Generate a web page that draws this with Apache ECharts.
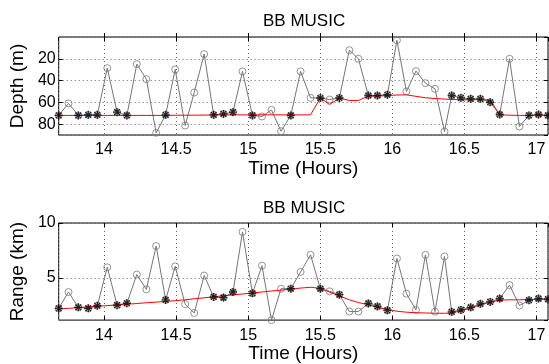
<!DOCTYPE html>
<html>
<head>
<meta charset="utf-8">
<script src="https://cdn.jsdelivr.net/npm/echarts@6/dist/echarts.min.js"></script>
<style>html,body{margin:0;padding:0;background:#fff;}#c{width:549px;height:364px;}</style>
</head>
<body>
<div id="c"></div>
<script>
// Time of each estimate (hours)
const times = [13.686, 13.754, 13.822, 13.891, 13.954, 14.023, 14.091, 14.159, 14.228, 14.294,
  14.362, 14.428, 14.494, 14.563, 14.626, 14.695, 14.761, 14.829, 14.895, 14.961,
  15.030, 15.096, 15.162, 15.228, 15.296, 15.364, 15.433, 15.501, 15.565, 15.633,
  15.702, 15.765, 15.834, 15.897, 15.966, 16.032, 16.098, 16.164, 16.230, 16.296,
  16.362, 16.412, 16.476, 16.544, 16.611, 16.679, 16.745, 16.813, 16.882, 16.948,
  17.014, 17.080];
// Raw MUSIC depth estimates (m)
const depthEst = [72, 61, 72, 71.5, 71.5, 28.6, 69, 72, 24.9, 38.7,
  88, 71.5, 29.8, 81.3, 51, 15.7, 71.5, 70.6, 69, 31.6,
  72, 73, 67, 86.5, 72, 31.6, 55.9, 56, 57.4, 56,
  12.1, 20, 53.7, 53.7, 53, 3, 50, 31.3, 42.4, 47.6,
  86.8, 53.7, 55.9, 56.8, 56.8, 59.9, 71.2, 20, 82.2, 72,
  71.2, 72];
// Tracked depth (red line)
const depthTrack = [72, 72, 72, 72, 72, 72, 72, 72, 72, 72,
  72, 72, 71.9, 71.8, 71.8, 71.7, 71.6, 71.6, 71.5, 71.5,
  71.5, 71.5, 71.5, 71.5, 71.5, 71.5, 71.5, 56, 62, 56,
  58.3, 58.3, 54.3, 54.3, 53.7, 53.3, 53.1, 54.5, 55.8, 56.5,
  57, 57.4, 57.6, 57.6, 57.5, 57.8, 71.5, 71.8, 72, 72,
  72, 72];
// Raw MUSIC range estimates (km)
const rangeEst = [2.22, 3.71, 2.31, 2.22, 2.46, 5.96, 2.51, 2.69, 5.30, 3.95,
  7.90, 2.99, 6.05, 2.60, 1.80, 5.21, 3.26, 3.20, 3.71, 9.19,
  3.59, 6.11, 1.15, 4.01, 4.01, 5.54, 7.10, 4.01, 3.77, 3.47,
  1.93, 1.93, 2.67, 2.40, 2.04, 6.77, 3.56, 2.08, 7.10, 1.92,
  6.95, 1.90, 2.08, 2.31, 2.63, 2.81, 3.11, 4.34, 2.48, 2.96,
  3.11, 3.06];
// Tracked range (red line)
const rangeTrack = [2.16, 2.22, 2.29, 2.35, 2.41, 2.47, 2.54, 2.60, 2.66, 2.73,
  2.79, 2.85, 2.92, 3.00, 3.09, 3.18, 3.27, 3.36, 3.45, 3.53,
  3.62, 3.71, 3.80, 3.88, 3.97, 4.07, 4.14, 4.05, 3.70, 3.35,
  3.00, 2.75, 2.55, 2.32, 2.12, 1.96, 1.87, 1.82, 1.80, 1.78,
  1.77, 1.80, 2.00, 2.25, 2.55, 2.78, 2.97, 3.00, 3.00, 3.02,
  3.04, 3.05];
// 1 = estimate accepted by the tracker (asterisk)
const tracked = [1, 0, 1, 1, 1, 0, 1, 1, 0, 0,
  0, 1, 0, 0, 0, 0, 1, 1, 1, 0,
  1, 0, 0, 0, 1, 0, 0, 1, 0, 1,
  0, 0, 1, 1, 1, 0, 0, 0, 0, 0,
  0, 1, 1, 1, 1, 1, 1, 0, 0, 1,
  1, 1];
const titleText = 'BB MUSIC';

const FONT = "'Liberation Sans', Arial, Helvetica, sans-serif";
const pairs = (vals) => times.map((t, i) => [t, vals[i]]);
const sel = (vals) => times.map((t, i) => tracked[i] ? [t, vals[i]] : null).filter(d => d);
const star = 'path://M5,0L5,10M0,5L10,5M1.46,1.46L8.54,8.54M1.46,8.54L8.54,1.46';

function xAxes(gi) {
  return [{
    type: 'value', gridIndex: gi, min: times[0], max: times[times.length - 1], splitNumber: 7,
    position: 'bottom',
    axisLine: { show: false },
    axisTick: { show: true, inside: true, length: 4, lineStyle: { color: '#000' } },
    axisLabel: { showMinLabel: false, showMaxLabel: false, fontSize: 16, color: '#000', margin: 7, fontFamily: FONT },
    splitLine: { show: true, lineStyle: { color: '#666', type: [1, 3], width: 1 } },
    name: 'Time (Hours)', nameLocation: 'middle', nameGap: 22,
    nameTextStyle: { fontSize: 19, color: '#000', fontFamily: FONT }
  }, {
    type: 'value', gridIndex: gi, min: times[0], max: times[times.length - 1], splitNumber: 7,
    position: 'top',
    axisLine: { show: false },
    axisTick: { show: true, inside: true, length: 4, lineStyle: { color: '#000' } },
    axisLabel: { show: false },
    splitLine: { show: false }
  }];
}

function yAxes(gi, extra, name) {
  const base = Object.assign({
    type: 'value', gridIndex: gi,
    axisLine: { show: false },
    axisTick: { show: true, inside: true, length: 4, lineStyle: { color: '#000' } }
  }, extra);
  return [Object.assign({}, base, {
    position: 'left',
    axisLabel: { showMinLabel: false, showMaxLabel: extra.inverse ? false : true, fontSize: 16, color: '#000', margin: 3, fontFamily: FONT },
    splitLine: { show: true, lineStyle: { color: '#666', type: [1, 3], width: 1 } },
    name: name, nameLocation: 'middle', nameGap: 26, nameRotate: 90,
    nameTextStyle: { fontSize: 19, color: '#000', fontFamily: FONT }
  }), Object.assign({}, base, {
    position: 'right',
    axisLabel: { show: false },
    splitLine: { show: false }
  })];
}

function seriesFor(idx, est, track) {
  return [{
    type: 'line', xAxisIndex: idx * 2, yAxisIndex: idx * 2, data: pairs(est),
    showSymbol: false, symbol: 'none', lineStyle: { color: '#757575', width: 1 }, z: 2, animation: false
  }, {
    type: 'scatter', xAxisIndex: idx * 2, yAxisIndex: idx * 2, data: pairs(est),
    symbol: 'circle', symbolSize: 7,
    itemStyle: { color: 'rgba(0,0,0,0)', borderColor: '#7a7a7a', borderWidth: 1 }, z: 3, animation: false
  }, {
    type: 'line', xAxisIndex: idx * 2, yAxisIndex: idx * 2, data: pairs(track),
    showSymbol: false, symbol: 'none', lineStyle: { color: '#ff0000', width: 1 }, z: 4, animation: false
  }, {
    type: 'scatter', xAxisIndex: idx * 2, yAxisIndex: idx * 2, data: sel(est),
    symbol: star, symbolSize: 8, symbolKeepAspect: true,
    itemStyle: { color: 'rgba(0,0,0,0)', borderColor: '#000', borderWidth: 1.4 }, z: 5, animation: false
  }];
}

const chart = echarts.init(document.getElementById('c'), null, { renderer: 'canvas' });
chart.setOption({
  backgroundColor: '#fff',
  animation: false,
  textStyle: { fontFamily: FONT },
  title: [
    { text: titleText, left: 258, top: 8, textStyle: { fontSize: 17, fontWeight: 'normal', color: '#000', fontFamily: FONT } },
    { text: titleText, left: 258, top: 195, textStyle: { fontSize: 17, fontWeight: 'normal', color: '#000', fontFamily: FONT } }
  ],
  grid: [
    { left: 52, right: 1, top: 37, height: 98, show: true, borderColor: '#000', borderWidth: 1, backgroundColor: 'transparent' },
    { left: 52, right: 1, top: 223, height: 98, show: true, borderColor: '#000', borderWidth: 1, backgroundColor: 'transparent' }
  ],
  xAxis: [].concat(xAxes(0), xAxes(1)),
  yAxis: [].concat(
    yAxes(0, { inverse: true, min: 0, max: 90, interval: 20 }, 'Depth (m)'),
    yAxes(1, { min: 1.15, max: 10, splitNumber: 2 }, 'Range (km)')
  ),
  series: [].concat(seriesFor(0, depthEst, depthTrack), seriesFor(1, rangeEst, rangeTrack))
});
</script>
</body>
</html>
